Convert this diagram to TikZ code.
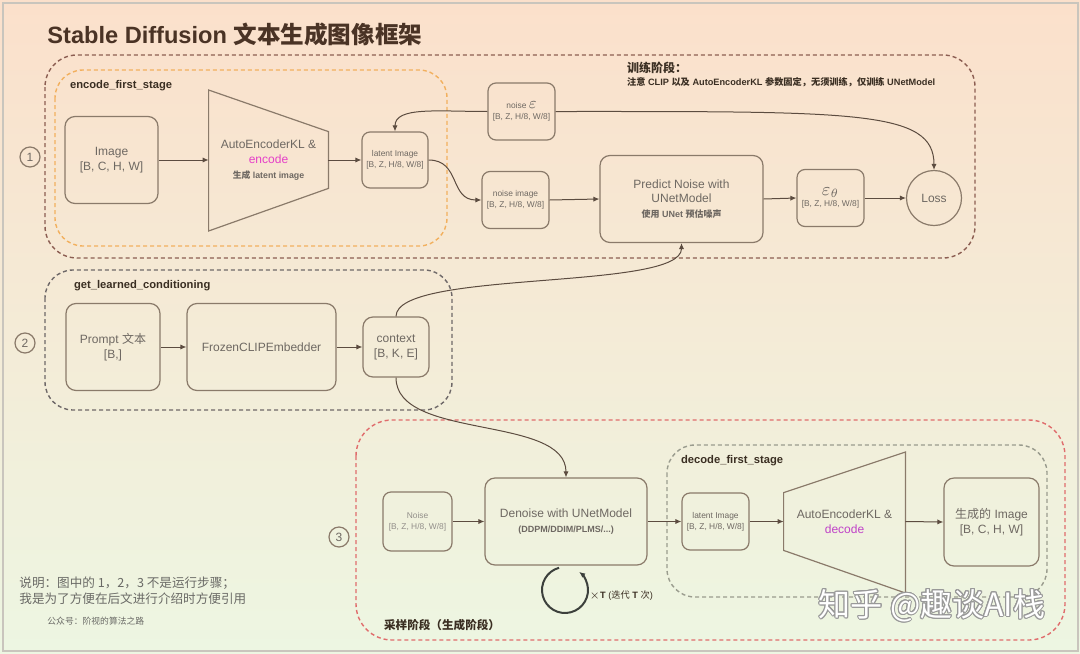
\documentclass[tikz,border=0pt]{standalone}
\usepackage{fontspec}
\usepackage[copies]{contour}
\setmainfont{Liberation Sans}
\newfontfamily\cjk{Noto Sans CJK SC}
\usetikzlibrary{arrows.meta, calc, positioning}
\definecolor{bgtop}{HTML}{FBE0CB}
\definecolor{bgmid}{HTML}{F8EDDA}
\definecolor{bgbot}{HTML}{EDF6E2}
\definecolor{frameline}{HTML}{C9C5BD}
\definecolor{boxline}{HTML}{8A7A6A}
\definecolor{boxtext}{HTML}{6E6862}
\definecolor{titletext}{HTML}{4A3325}
\definecolor{darktext}{HTML}{3A2E22}
\definecolor{notetext}{HTML}{6A6A66}
\definecolor{arrowline}{HTML}{5C4C40}
\definecolor{loopline}{HTML}{3C403C}
\definecolor{trainline}{HTML}{8C5E52}
\definecolor{encline}{HTML}{F2B05E}
\definecolor{condline}{HTML}{6E6868}
\definecolor{sampleline}{HTML}{E06C6C}
\definecolor{decline}{HTML}{9A9C8E}
\definecolor{encpink}{HTML}{E53FC8}
\definecolor{decpurple}{HTML}{C042C8}
\contourlength{0.5pt}
\tikzset{
  box/.style={rectangle, rounded corners=5pt, draw=boxline, line width=0.6pt,
              align=center, text=boxtext, inner sep=1pt, font=\fontsize{6}{7.4}\selectfont},
  sbox/.style={box, rounded corners=4pt, font=\fontsize{4.2}{5.6}\selectfont},
  wh/.style 2 args={minimum width=#1*0.5pt, minimum height=#2*0.5pt},
  trapbox/.style={rectangle, align=center, text=boxtext, inner sep=0pt,
                  font=\fontsize{6}{7.4}\selectfont},
  trap/.style={draw=boxline, line width=0.6pt},
  numdot/.style={circle, draw=boxline, line width=0.6pt, text=boxtext, minimum size=10pt,
                 inner sep=0pt, font=\fontsize{6}{7}\selectfont},
  lossdot/.style={circle, draw=boxline, line width=0.6pt, text=boxtext, minimum size=27.5pt,
                  inner sep=0pt, font=\fontsize{6}{7}\selectfont},
  region/.style={rounded corners=14pt, line width=0.7pt, dash pattern=on 2pt off 1.5pt},
  regtitle/.style={anchor=west, font=\fontsize{5.6}{6.6}\selectfont\bfseries, text=darktext},
  note/.style={anchor=west, align=left, text=notetext, inner sep=0pt},
  flow/.style={-{Latex[length=3pt, width=2.6pt]}, line width=0.5pt, draw=arrowline},
}

\begin{document}
\begin{tikzpicture}[x=0.5pt, y=0.5pt]
\useasboundingbox (0,0) rectangle (1080,-653);

% Backdrop and frame
\shade[top color=bgtop, middle color=bgmid, bottom color=bgbot] (0,0) rectangle (1080,-653);
\draw[frameline, line width=1pt] (2.5,-2.5) rectangle (1077.5,-650.5);

% Title
\node[anchor=west, text=titletext, inner sep=0pt, font=\fontsize{11.8}{14}\selectfont\bfseries] (title)
  at (47,-35) {Stable Diffusion {\cjk 文本生成图像框架}};

% Phase panels
\draw[region, draw=trainline, rounded corners=16pt] (45,-55) rectangle (975,-258);
\draw[region, draw=encline] (55,-70) rectangle (447,-246);
\draw[region, draw=condline] (45,-270) rectangle (452,-410);
\draw[region, draw=sampleline, rounded corners=18pt] (356,-420) rectangle (1065,-640);
\draw[region, draw=decline] (667,-445) rectangle (1047,-597);

\node[regtitle] (enctitle) at (63,-86) {encode\_first\_stage};
\node[regtitle] (condtitle) at (67,-286) {get\_learned\_conditioning};
\node[regtitle] (dectitle) at (674,-461) {decode\_first\_stage};
\node[regtitle, font=\fontsize{5.8}{7}\selectfont\bfseries\cjk] (sampletitle) at (377,-625) {采样阶段（生成阶段）};
\node[regtitle, font=\fontsize{6}{7}\selectfont\bfseries\cjk] (traintitle) at (620,-68) {训练阶段：};
\node[regtitle, font=\fontsize{4.6}{5.4}\selectfont\bfseries] (trainnote) at (620,-82)
  {{\cjk 注意} CLIP {\cjk 以及} AutoEncoderKL {\cjk 参数固定，无须训练，仅训练} UNetModel};

% Stage 1: encode, add noise, predict noise
\node[numdot] (one) at (30,-157) {1};
\node[box, wh={93}{87}] (img) at (111.5,-160) {Image\\{}[B, C, H, W]};
\node[trapbox, wh={119}{56}] (enc) at (268.5,-160)
  {AutoEncoderKL \&\\{\color{encpink}encode}\\{\fontsize{4.4}{5.4}\selectfont\bfseries{\cjk 生成} latent image}};
\draw[trap] ($(enc.west)+(0,70)$) -- (enc.north east) -- (enc.south east) -- ($(enc.west)+(0,-71)$) -- cycle;
\node[sbox, wh={66}{56}] (lat) at (395,-160) {latent Image\\{}[B, Z, H/8, W/8]};
\node[sbox, wh={67}{57}] (noise) at (521.5,-111.5)
  {noise {\fontsize{8}{8}\selectfont$\varepsilon$}\\{}[B, Z, H/8, W/8]};
\node[sbox, wh={67}{57}] (nimg) at (515.5,-200) {noise image\\{}[B, Z, H/8, W/8]};
\node[box, wh={163}{87}] (pred) at (681.5,-199)
  {Predict Noise with\\UNetModel\\{\fontsize{4.5}{6}\selectfont\bfseries{\cjk 使用} UNet {\cjk 预估噪声}}};
\node[sbox, wh={67}{57}] (eps) at (830.5,-198)
  {{\fontsize{9}{9}\selectfont$\varepsilon_\theta$}\\{}[B, Z, H/8, W/8]};
\node[lossdot] (loss) at (934,-198) {Loss};

% Stage 2: text conditioning
\node[numdot] (two) at (25,-343) {2};
\node[box, wh={94}{87}] (prompt) at (113,-347) {Prompt {\cjk 文本}\\{}[B,]};
\node[box, wh={149}{87}] (clip) at (261.5,-347) {FrozenCLIPEmbedder};
\node[box, wh={66}{60}] (ctx) at (396,-347) {context\\{}[B, K, E]};

% Stage 3: sampling and decoding
\node[numdot] (three) at (339,-537) {3};
\node[sbox, wh={69}{59}, text=boxtext!75] (noise2) at (417.5,-521.5) {Noise\\{}[B, Z, H/8, W/8]};
\node[box, wh={162}{87}] (denoise) at (566,-521.5)
  {Denoise with UNetModel\\{\fontsize{4.5}{6.5}\selectfont\bfseries (DDPM/DDIM/PLMS/...)}};
\node[sbox, wh={67}{57}] (lat2) at (715.5,-521.5) {latent Image\\{}[B, Z, H/8, W/8]};
\node[trapbox, wh={121}{57}] (dec) at (844.5,-521.5) {AutoEncoderKL \&\\{\color{decpurple}decode}};
\draw[trap] (dec.north west) -- ($(dec.east)+(0,69.5)$) -- ($(dec.east)+(0,-71.5)$) -- (dec.south west) -- cycle;
\node[box, wh={95}{88}] (gen) at (991.5,-522) {{\cjk 生成的} Image\\{}[B, C, H, W]};
\coordinate (loopc) at (565,-590);
\node[anchor=west, text=darktext, font=\fontsize{4.6}{5.6}\selectfont, inner sep=0pt] (times) at (589,-596)
  {$\times\mathbf{T}$ ({\cjk 迭代} $\mathbf{T}$ {\cjk 次})};

% Notes
\node[note, font=\fontsize{6.3}{8}\selectfont\cjk] (remark) at (19,-591)
  {说明：图中的 1，2，3 不是运行步骤；\\我是为了方便在后文进行介绍时方便引用};
\node[note, font=\fontsize{4.4}{5}\selectfont\cjk] (account) at (47,-621) {公众号：阶视的算法之路};
\node[text=white, font=\fontsize{16}{17}\selectfont\cjk, inner sep=0pt] (mark) at (932,-606)
  {\contour{gray!80}{知乎 @趣谈AI栈}};

% Flow
\draw[flow] (img.east) -- (enc.west);
\draw[flow] (enc.east) -- (lat.west);
\draw[flow] (noise.west) .. controls +(-50,0) and +(0,25) .. (lat.north);
\draw[flow] (noise.east) .. controls +(300,0) and +(0,60) .. (loss.north);
\draw[flow] (lat.east) .. controls +(32,0) and +(-32,0) .. (nimg.west);
\draw[flow] (nimg.east) -- (pred.west);
\draw[flow] (pred.east) -- (eps.west);
\draw[flow] (eps.east) -- (loss.west);
\draw[flow] (prompt.east) -- (clip.west);
\draw[flow] (clip.east) -- (ctx.west);
\draw[flow] (ctx.north) .. controls +(0,47) and +(0,-48) .. (pred.south);
\draw[flow] (ctx.south) .. controls +(0,-63) and +(0,63) .. (denoise.north);
\draw[flow] (noise2.east) -- (denoise.west);
\draw[flow] (denoise.east) -- (lat2.west);
\draw[flow] (lat2.east) -- (dec.west);
\draw[flow] (dec.east) -- (gen.west);
\draw[flow, line width=1pt, draw=loopline] ($(loopc)+(105:11.5pt)$) arc[start angle=105, end angle=412, radius=11.5pt];

\end{tikzpicture}
\end{document}
